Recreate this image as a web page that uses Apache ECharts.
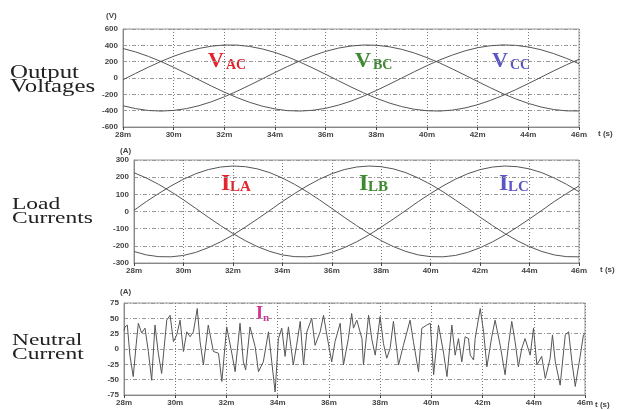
<!DOCTYPE html>
<html><head><meta charset="utf-8">
<script src="https://cdn.jsdelivr.net/npm/echarts@6/dist/echarts.min.js"></script>
<style>html,body{margin:0;padding:0;background:#fff}#c{width:626px;height:410px}</style>
</head><body><div id="c"></div>
<script>
// time samples (ms) for voltage/current waveforms
const tSample = [28,28.5,29,29.5,30,30.5,31,31.5,32,32.5,33,33.5,34,34.5,35,35.5,36,36.5,37,37.5,38,38.5,39,39.5,40,40.5,41,41.5,42,42.5,43,43.5,44,44.5,45,45.5,46];
// output voltages (V)
const vA = [-21,57,132,203,266,320,362,390,404,403,386,356,313,258,193,121,45,-33,-110,-182,-248,-305,-350,-383,-401,-405,-393,-367,-327,-275,-213,-143,-68,9,87,161,229];
const vB = [-340,-375,-398,-405,-397,-375,-339,-290,-230,-162,-88,-11,67,142,212,274,326,366,392,404,401,383,351,306,249,184,111,35,-43,-119,-192,-256,-311,-355,-386,-402,-404];
const vC = [361,319,265,202,131,55,-23,-100,-173,-240,-298,-345,-379,-400,-405,-395,-371,-333,-283,-222,-153,-78,-1,77,151,221,281,332,371,395,405,400,380,346,299,241,175];
// load currents (A)
const iA = [7,58,105,149,188,220,244,259,265,261,248,226,195,158,115,68,18,-33,-82,-128,-170,-205,-233,-253,-263,-264,-256,-238,-211,-177,-137,-91,-43,7,58,105,149];
const iB = [-233,-253,-263,-264,-256,-238,-211,-177,-137,-91,-43,7,58,105,149,188,220,244,259,265,261,248,226,195,158,115,67,18,-33,-82,-128,-170,-205,-233,-253,-263,-264];
const iC = [226,195,158,115,68,18,-33,-82,-128,-170,-205,-233,-253,-263,-264,-256,-238,-211,-177,-137,-91,-43,7,58,105,149,188,220,244,259,265,261,248,226,195,158,115];
// neutral current (A), read at its turning points
const nT = [28.0,28.04,28.13,28.23,28.36,28.47,28.56,28.69,28.82,28.95,29.08,29.21,29.34,29.47,29.67,29.80,29.93,30.06,30.19,30.32,30.45,30.58,30.71,30.86,30.97,31.10,31.29,31.49,31.69,31.82,32.01,32.21,32.34,32.53,32.66,32.75,32.92,33.12,33.25,33.44,33.64,33.77,33.90,34.03,34.16,34.29,34.42,34.61,34.74,34.88,35.01,35.14,35.33,35.46,35.66,35.79,35.92,36.11,36.24,36.44,36.57,36.76,36.89,36.96,37.09,37.29,37.35,37.55,37.68,37.81,38.00,38.13,38.26,38.39,38.52,38.72,38.91,39.17,39.30,39.50,39.63,39.82,39.96,40.09,40.28,40.48,40.61,40.80,40.93,41.06,41.19,41.32,41.45,41.52,41.65,41.71,41.91,42.04,42.17,42.36,42.49,42.69,42.88,43.01,43.14,43.27,43.40,43.53,43.66,43.86,43.99,44.12,44.31,44.45,44.64,44.73,44.84,45.03,45.23,45.36,45.49,45.62,45.81,45.94,46.0];
const nI = [30,36,39,-10,-45,5,42,26,34,-4,-51,39,-7,-40,47,55,12,23,47,-4,28,20,28,66,12,-26,39,-4,-7,-53,36,-7,-37,42,-21,-34,36,4,-37,-21,28,-21,-70,17,34,-12,36,-26,6,45,-26,28,50,6,28,55,23,-21,12,42,-26,17,58,34,47,17,-26,55,15,-10,53,9,-15,1,45,-26,6,47,12,-37,34,39,42,-42,39,-7,-45,39,-10,17,-21,20,17,-10,-18,17,66,28,-29,20,47,6,-42,6,45,12,-29,1,17,-10,34,-26,-12,-48,-15,23,-21,-59,23,28,-21,-61,-12,23,25];
const vTicks = [-600,-400,-200,0,200,400,600];
const iTicks = [-300,-200,-100,0,100,200,300];
const nTicks = [-75,-50,-25,0,25,50,75];

const pair = (xs, ys) => xs.map((x, i) => [x, ys[i]]);
const chart = echarts.init(document.getElementById('c'), null, {renderer: 'canvas'});
const lblFont = {fontFamily: 'Liberation Sans', fontSize: 8, fontWeight: 'bold', color: '#444'};
function xAx(gi) {
  return {type: 'value', gridIndex: gi, min: 28, max: 46, interval: 2,
    axisLine: {show: true, onZero: false, lineStyle: {color: '#888', width: 1}},
    axisTick: {show: true, length: 3, lineStyle: {color: '#444'}},
    axisLabel: Object.assign({formatter: v => v + 'm', margin: 4, showMinLabel: true, showMaxLabel: true}, lblFont),
    splitLine: {show: true, lineStyle: {color: '#777', type: [1, 2], width: 1}}};
}
function yAx(gi, lo, hi, step) {
  return {type: 'value', gridIndex: gi, min: lo, max: hi, interval: step,
    axisLine: {show: true, onZero: false, lineStyle: {color: '#888', width: 1}},
    axisTick: {show: false},
    axisLabel: Object.assign({margin: 5, showMinLabel: true, showMaxLabel: true}, lblFont),
    splitLine: {show: true, lineStyle: {color: '#999', type: [4, 2, 1, 2], width: 1}}};
}
const lineS = (gi, data) => ({type: 'line', xAxisIndex: gi, yAxisIndex: gi, data: data, symbol: 'none', smooth: false,
  lineStyle: {color: '#555', width: 1}, animation: false});
const txt = (x, y, s, size, color) => ({type: 'text', left: x, top: y, silent: true,
  style: {text: s, fontSize: size, fill: color, fontFamily: 'Liberation Serif', fontWeight: 'bold'}});
const plain = (x, y, s, size) => ({type: 'text', left: x, top: y, silent: true,
  style: {text: s, fontSize: size, fill: '#444', fontFamily: 'Liberation Sans', fontWeight: 'bold'}});
const side = (x, y, s, size) => ({type: 'text', x: x, y: y, scaleX: 1.38, silent: true,
  style: {text: s, fontSize: size, fill: '#222', fontFamily: 'Liberation Serif', lineHeight: 14}});

chart.setOption({
  animation: false,
  grid: [
    {left: 123, right: 47, top: 29, height: 98, show: true, borderColor: '#999', borderWidth: 1},
    {left: 134, right: 47, top: 160, height: 103, show: true, borderColor: '#999', borderWidth: 1},
    {left: 124, right: 41, top: 303, height: 92, show: true, borderColor: '#999', borderWidth: 1}
  ],
  xAxis: [xAx(0), xAx(1), xAx(2)],
  yAxis: [yAx(0, vTicks[0], vTicks[6], 200), yAx(1, iTicks[0], iTicks[6], 100), yAx(2, nTicks[0], nTicks[6], 25)],
  series: [
    lineS(0, pair(tSample, vA)), lineS(0, pair(tSample, vB)), lineS(0, pair(tSample, vC)),
    lineS(1, pair(tSample, iA)), lineS(1, pair(tSample, iB)), lineS(1, pair(tSample, iC)),
    lineS(2, pair(nT, nI))
  ],
  graphic: [
    side(10, 66, 'Output\nVoltages', 18),
    side(12, 198, 'Load\nCurrents', 17),
    side(12, 334, 'Neutral\nCurrent', 17),
    plain(106, 12, '(V)', 8), plain(120, 147, '(A)', 8), plain(120, 288, '(A)', 8),
    plain(598, 130, 't (s)', 8), plain(600, 266, 't (s)', 8), plain(595, 401, 't (s)', 8),
    txt(208, 50, 'V', 22, '#e3262d'), txt(226, 58, 'AC', 14, '#e3262d'),
    txt(355, 50, 'V', 22, '#3c8a2e'), txt(373, 58, 'BC', 14, '#3c8a2e'),
    txt(492, 50, 'V', 22, '#5a56c4'), txt(510, 58, 'CC', 14, '#5a56c4'),
    txt(221, 172, 'I', 24, '#e3262d'), txt(230, 180, 'LA', 15, '#e3262d'),
    txt(359, 172, 'I', 24, '#3c8a2e'), txt(368, 180, 'LB', 15, '#3c8a2e'),
    txt(499, 172, 'I', 24, '#5a56c4'), txt(508, 180, 'LC', 15, '#5a56c4'),
    txt(256, 305, 'I', 18, '#d2358f'), txt(263, 313, 'n', 11, '#d2358f')
  ]
});
</script></body></html>
